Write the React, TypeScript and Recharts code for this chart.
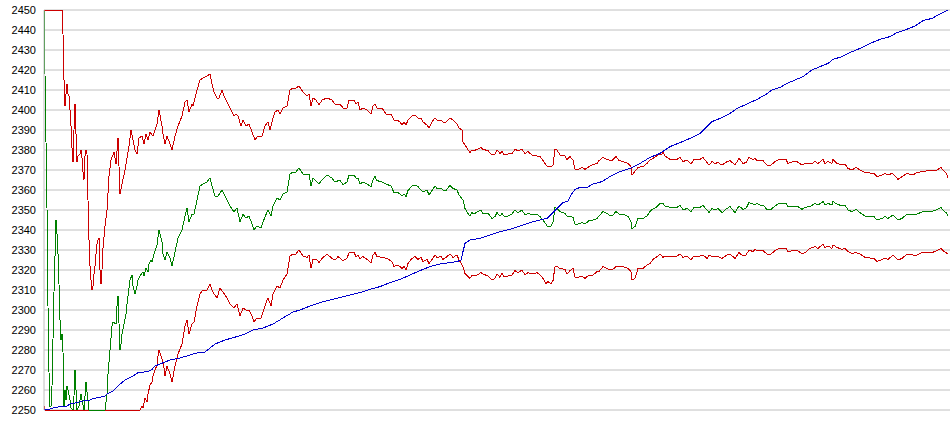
import { LineChart, Line, XAxis, YAxis, CartesianGrid } from 'recharts';

// [bar index, value] pairs
const upperBand: [number, number][] = [
    [0, 2450], [18, 2450], [19, 2438], [20, 2415], [21, 2402], [22, 2408], [23, 2413], [24, 2408], [25, 2407], [26, 2400],
    [27, 2392], [28, 2381], [29, 2374], [30, 2390], [31, 2403], [32, 2388], [33, 2374], [34, 2377], [36, 2378], [37, 2380],
    [38, 2376], [39, 2369], [40, 2365], [41, 2377], [42, 2380], [43, 2378], [44, 2355], [45, 2335], [46, 2322], [47, 2315],
    [48, 2310], [49, 2312], [50, 2318], [51, 2322], [52, 2328], [53, 2333], [54, 2335], [55, 2336], [56, 2320], [57, 2313],
    [58, 2320], [59, 2331], [61, 2342], [63, 2350], [65, 2367], [67, 2375], [70, 2379], [72, 2373], [74, 2386], [76, 2358],
    [78, 2363], [81, 2370], [85, 2382], [87, 2390], [91, 2380], [93, 2378], [95, 2386], [98, 2387], [100, 2383], [102, 2388],
    [104, 2385], [106, 2389], [109, 2387], [113, 2393], [115, 2400], [118, 2392], [119, 2388], [121, 2383], [123, 2387], [126, 2383],
    [128, 2380], [131, 2387], [134, 2392], [138, 2397], [141, 2404], [143, 2405], [145, 2399], [148, 2403], [149, 2402], [153, 2410],
    [156, 2415], [159, 2416], [163, 2417], [166, 2418], [168, 2413], [170, 2409], [173, 2406], [175, 2406], [178, 2410], [180, 2407],
    [183, 2404], [186, 2401], [190, 2397], [192, 2398], [194, 2397], [197, 2392], [199, 2395], [202, 2392], [205, 2393], [208, 2389],
    [211, 2385], [214, 2387], [218, 2387], [221, 2392], [224, 2394], [226, 2390], [229, 2396], [231, 2399], [234, 2400], [236, 2398],
    [239, 2401], [243, 2402], [246, 2410], [249, 2411], [252, 2411], [255, 2412], [259, 2409], [263, 2407], [265, 2408], [267, 2402],
    [269, 2406], [272, 2405], [275, 2402.5], [278, 2405], [283, 2406], [288, 2405], [291, 2403], [296, 2403], [299, 2401], [303, 2401],
    [305, 2405], [310, 2405], [312, 2403], [314, 2404], [316, 2400], [319, 2401], [323, 2400], [327, 2398], [329, 2402], [331, 2403],
    [333, 2401], [338, 2401], [342, 2398], [347, 2398], [350, 2395], [353, 2395], [356, 2394], [358, 2392.5], [360, 2394], [362, 2392.5],
    [364, 2395], [368, 2397], [371, 2397.5], [374, 2396], [377, 2396], [379, 2394], [383, 2392.5], [385, 2391], [388, 2394], [391, 2396],
    [393, 2395], [397, 2395], [399, 2394], [402, 2394], [406, 2396], [409, 2395], [413, 2393], [415, 2391], [418, 2390], [419, 2384],
    [422, 2381.7], [424, 2380], [426, 2378.7], [428, 2380], [430, 2379.7], [433, 2380.3], [437, 2381.3], [439, 2380.3], [444, 2379.7], [448, 2377.5],
    [451, 2378], [453, 2380], [456, 2378.3], [458, 2379.2], [460, 2377.5], [464, 2378], [468, 2378.3], [471, 2380.3], [474, 2379.7], [478, 2380.3],
    [481, 2378.3], [484, 2379.2], [488, 2377.5], [493, 2377], [496, 2376.7], [499, 2374.7], [501, 2373.3], [503, 2372], [507, 2371.7], [509, 2372.5],
    [511, 2380.3], [513, 2380], [516, 2377.5], [521, 2377], [523, 2375.3], [526, 2376.7], [529, 2375], [531, 2370.3], [534, 2370.3], [538, 2371.3],
    [541, 2370.3], [545, 2371.7], [548, 2372.5], [553, 2373.3], [555, 2374.7], [559, 2376.3], [563, 2375.3], [565, 2375], [568, 2374.7], [572, 2376.7],
    [575, 2374.7], [579, 2374.2], [584, 2373.3], [587, 2371.7], [588, 2367.5], [590, 2368.7], [594, 2371.3], [599, 2371.7], [603, 2373.3], [606, 2375],
    [609, 2375.8], [614, 2377.5], [618, 2378], [619, 2378.7], [621, 2377], [626, 2375.3], [633, 2375.3], [636, 2376.3], [639, 2374.2], [643, 2375],
    [647, 2373], [650, 2375.3], [656, 2375.3], [659, 2376.3], [663, 2373.7], [665, 2372.5], [668, 2374.2], [671, 2373.3], [674, 2373.7], [678, 2372.5],
    [683, 2374.2], [686, 2374.7], [691, 2372.5], [695, 2375.8], [699, 2373.3], [702, 2373.7], [705, 2376.3], [709, 2375.3], [711, 2375.8], [713, 2374.7],
    [716, 2374.7], [719, 2374.7], [723, 2372.5], [727, 2372.5], [731, 2374.2], [735, 2375.3], [742, 2375.3], [744, 2373.3], [749, 2374.2], [753, 2374.2],
    [758, 2372.5], [761, 2373.3], [768, 2373.3], [771, 2374.2], [774, 2373.3], [779, 2375.3], [781, 2373.3], [784, 2374.2], [788, 2373.3], [789, 2375.3],
    [793, 2373.3], [798, 2372.5], [801, 2373], [804, 2370.8], [808, 2370], [812, 2371.3], [816, 2370], [821, 2368.7], [830, 2368.3], [833, 2366.7],
    [838, 2367.5], [841, 2368.3], [844, 2367.5], [848, 2368.3], [851, 2367], [854, 2365.3], [858, 2366.7], [863, 2368.3], [869, 2367.5], [873, 2368.7],
    [878, 2369.2], [888, 2370], [893, 2370], [897, 2371.3], [899, 2370], [902, 2368.7], [904, 2366.3],
];

const middleBand: [number, number][] = [
    [0, 2450], [1, 2418], [3, 2351], [4, 2302], [5, 2269], [6, 2252], [7, 2252], [8, 2262], [10, 2309], [12, 2345],
    [13, 2338], [14, 2328], [15, 2313], [16, 2295], [17, 2285], [18, 2288], [19, 2279], [20, 2252], [21, 2260], [22, 2255],
    [23, 2262], [24, 2260], [26, 2255], [27, 2251], [29, 2250], [30, 2257], [31, 2270], [32, 2260], [33, 2250], [35, 2252],
    [36, 2255], [37, 2258], [38, 2255], [40, 2250], [41, 2257], [42, 2264], [43, 2259], [45, 2250], [61, 2250], [63, 2258],
    [64, 2268], [66, 2280], [68, 2292], [69, 2294], [72, 2293], [73, 2302], [74, 2307], [76, 2280], [77, 2283], [78, 2288],
    [80, 2293], [82, 2298], [83, 2303], [86, 2315], [88, 2317.5], [89, 2312], [91, 2308], [93, 2312], [94, 2315], [96, 2317],
    [99, 2319], [100, 2317], [102, 2321], [104, 2319], [105, 2323], [107, 2325], [108, 2324], [110, 2328], [113, 2332.5], [115, 2340],
    [118, 2334], [119, 2328], [121, 2325], [123, 2329], [126, 2326], [128, 2322], [131, 2329], [134, 2336], [138, 2340], [141, 2347],
    [143, 2351], [145, 2344], [148, 2348], [150, 2348], [153, 2355], [156, 2362], [159, 2363], [163, 2364], [166, 2366], [168, 2362],
    [171, 2357], [174, 2357], [178, 2360], [180, 2358], [183, 2355], [186, 2352], [190, 2349], [193, 2351], [196, 2344], [199, 2348],
    [202, 2346], [205, 2347], [208, 2343], [210, 2340], [213, 2342], [217, 2341], [219, 2344], [223, 2349], [224, 2350], [227, 2347],
    [229, 2352], [233, 2356], [236, 2355], [239, 2358], [243, 2359], [246, 2368], [249, 2369], [252, 2369], [255, 2371], [259, 2368],
    [263, 2367.5], [265, 2368], [267, 2362], [269, 2366], [273, 2364], [275, 2363], [278, 2365], [283, 2367.5], [288, 2366], [291, 2364],
    [296, 2365], [299, 2362.5], [303, 2364], [305, 2367.5], [310, 2367.5], [312, 2366], [314, 2366], [316, 2363], [319, 2364], [323, 2363],
    [327, 2361.7], [329, 2365], [331, 2366.7], [333, 2364.7], [338, 2364], [342, 2363], [347, 2362], [350, 2358.7], [353, 2359], [356, 2358],
    [358, 2357], [360, 2358], [362, 2356.7], [364, 2359.7], [368, 2362], [371, 2362.5], [374, 2361.7], [377, 2360], [379, 2359], [383, 2360],
    [385, 2357.5], [388, 2359.7], [391, 2362], [393, 2360.8], [397, 2360.8], [399, 2360], [402, 2359.7], [406, 2362.3], [409, 2360.8], [413, 2360],
    [415, 2357.5], [419, 2355], [421, 2350.8], [424, 2348.3], [426, 2347], [428, 2348.7], [430, 2348], [433, 2349], [437, 2350], [439, 2348.3],
    [444, 2348.3], [448, 2345.8], [451, 2346.7], [453, 2348.7], [456, 2347], [458, 2348.3], [460, 2347], [464, 2347], [468, 2348], [471, 2350],
    [474, 2348.7], [478, 2350], [481, 2347.5], [484, 2348.3], [489, 2347.5], [493, 2348], [496, 2346.7], [499, 2345], [502, 2343], [503, 2342],
    [507, 2342], [509, 2343.7], [511, 2351.3], [513, 2350.8], [516, 2349.2], [521, 2348.3], [523, 2347], [526, 2347], [529, 2346.3], [531, 2343],
    [534, 2343], [538, 2343.7], [541, 2343], [545, 2344.7], [548, 2344.7], [553, 2345.8], [555, 2347], [559, 2349.2], [563, 2348.3], [565, 2347.5],
    [568, 2347], [572, 2349.2], [575, 2348], [579, 2348], [584, 2346.7], [587, 2344.2], [588, 2340.8], [591, 2341.7], [594, 2345.8], [599, 2345.8],
    [603, 2347], [606, 2349.2], [608, 2350.3], [612, 2351.3], [616, 2353.3], [619, 2353.3], [621, 2352], [626, 2351.3], [633, 2351.3], [636, 2352.5],
    [639, 2350], [643, 2350.8], [647, 2349.2], [650, 2351.3], [656, 2351.3], [659, 2352.3], [663, 2350], [665, 2348.7], [668, 2350.8], [671, 2350],
    [674, 2350.8], [678, 2348.7], [683, 2350.8], [686, 2351.7], [691, 2348.7], [695, 2352], [699, 2350.3], [702, 2350.8], [705, 2353.7], [709, 2353],
    [711, 2352.5], [713, 2353.3], [716, 2352.5], [719, 2352.5], [723, 2350.3], [727, 2350.3], [731, 2352], [735, 2353.3], [742, 2353.3], [744, 2351.7],
    [753, 2352], [758, 2350.3], [761, 2351.3], [766, 2351.7], [771, 2353.3], [774, 2352.5], [779, 2354.2], [781, 2352.5], [784, 2353.3], [788, 2352.5],
    [789, 2354.2], [793, 2353], [798, 2352], [801, 2352.5], [804, 2350], [808, 2349.2], [812, 2350.3], [816, 2348.7], [821, 2347], [830, 2346.7],
    [833, 2345], [838, 2345.8], [841, 2346.7], [844, 2345.8], [849, 2347.5], [854, 2345], [858, 2345.8], [863, 2348], [869, 2347.5], [873, 2348],
    [878, 2349], [888, 2349.2], [893, 2350.3], [897, 2351.3], [899, 2350], [902, 2348.7], [904, 2347],
];

const lowerBand: [number, number][] = [
    [0, 2252], [1, 2250], [96, 2250], [98, 2251.7], [99, 2251], [101, 2256], [103, 2254], [104, 2258], [106, 2262.5], [108, 2264],
    [109, 2267], [111, 2270], [113, 2272.5], [114, 2277], [115, 2280], [117, 2277], [119, 2274], [120, 2271], [121, 2267], [123, 2272],
    [126, 2268], [128, 2264], [131, 2272], [134, 2278], [138, 2283], [141, 2292], [143, 2295], [145, 2288], [148, 2293], [150, 2294],
    [153, 2302], [156, 2308], [159, 2310], [163, 2310], [166, 2313], [168, 2310], [170, 2308], [173, 2306], [176, 2311], [179, 2309],
    [183, 2306], [186, 2303], [190, 2301], [193, 2303], [196, 2297], [199, 2301], [202, 2300], [205, 2300], [208, 2297], [210, 2294],
    [213, 2296], [217, 2296], [219, 2299], [223, 2305], [224, 2306], [227, 2302], [229, 2308], [233, 2312], [236, 2311], [239, 2315],
    [243, 2318], [246, 2327], [249, 2328], [252, 2328], [255, 2330], [259, 2327], [263, 2326.3], [265, 2327.5], [267, 2320.8], [269, 2325.3],
    [273, 2325], [275, 2323.7], [278, 2325.8], [283, 2328], [288, 2325.8], [291, 2325], [294, 2326.7], [299, 2324.7], [303, 2325.8], [305, 2328.7],
    [310, 2328.7], [312, 2326.7], [314, 2327.5], [316, 2325.8], [319, 2326.7], [323, 2325.3], [327, 2323.7], [329, 2327.5], [331, 2328.7], [333, 2326.7],
    [339, 2326.3], [343, 2325.8], [348, 2324.2], [350, 2321.7], [353, 2322.5], [356, 2321.7], [358, 2320.8], [360, 2321.7], [362, 2320], [364, 2323.3],
    [368, 2325.8], [371, 2326.7], [374, 2325.3], [377, 2326.3], [379, 2324.2], [383, 2325.3], [385, 2323.3], [388, 2325.3], [391, 2327.5], [393, 2326.3],
    [397, 2326.7], [399, 2325.3], [402, 2326.3], [406, 2328], [409, 2326.3], [413, 2327.5], [415, 2325], [416, 2324.2], [419, 2321.7], [421, 2318.3],
    [424, 2316.7], [426, 2315.8], [428, 2317.5], [430, 2317], [433, 2317.5], [437, 2318.7], [439, 2318], [444, 2317], [448, 2315], [451, 2315.8],
    [453, 2318], [456, 2316.3], [458, 2318.3], [460, 2316.7], [464, 2317], [468, 2317.5], [471, 2319.7], [474, 2318.7], [478, 2320], [481, 2317.5],
    [484, 2318.7], [489, 2318], [493, 2318.7], [496, 2317.5], [499, 2315.8], [502, 2313.3], [504, 2314.2], [507, 2313], [509, 2314.7], [511, 2321.7],
    [513, 2321.7], [516, 2320.8], [521, 2320.3], [523, 2318], [526, 2319.7], [529, 2320.8], [531, 2316.3], [534, 2316.3], [538, 2317], [541, 2315.8],
    [545, 2317.5], [548, 2317], [553, 2319.2], [555, 2319.2], [559, 2321.7], [563, 2320.8], [565, 2320.3], [568, 2320], [572, 2321.7], [579, 2321.7],
    [584, 2320.8], [587, 2319.2], [588, 2315], [591, 2315.8], [594, 2320.8], [599, 2320.8], [603, 2322.5], [606, 2323.3], [609, 2325.3], [613, 2326.7],
    [616, 2328], [619, 2326.3], [621, 2327], [626, 2327], [633, 2327], [636, 2328], [639, 2326.3], [643, 2327], [647, 2325], [650, 2327],
    [656, 2327], [659, 2327.5], [663, 2325.8], [665, 2327.5], [668, 2326.7], [671, 2327], [674, 2326.7], [678, 2325.8], [683, 2327.5], [686, 2328],
    [691, 2325.8], [695, 2328.7], [699, 2327], [702, 2327.5], [705, 2330], [709, 2329.2], [711, 2330.3], [713, 2329.7], [716, 2329.7], [719, 2329.7],
    [723, 2328], [727, 2328], [731, 2329.7], [735, 2330.8], [742, 2330.8], [744, 2329.2], [753, 2330], [758, 2328], [761, 2328.7], [766, 2330.8],
    [771, 2331.7], [774, 2330.8], [779, 2333], [781, 2331.3], [784, 2332], [788, 2330.8], [789, 2332.5], [793, 2331.3], [798, 2330.3], [801, 2330.8],
    [804, 2329.2], [808, 2328.3], [812, 2328.7], [816, 2328], [821, 2326.3], [830, 2325.8], [833, 2324.2], [838, 2325.3], [841, 2325.8], [844, 2325.3],
    [849, 2327.5], [854, 2325], [858, 2325.8], [863, 2328], [869, 2327.5], [873, 2327.5], [878, 2328.7], [888, 2328.7], [893, 2329.7], [897, 2330.8],
    [899, 2329.7], [904, 2328],
];

const trendLine: [number, number][] = [
    [0, 2250], [6, 2250.5], [9, 2251], [16, 2251.7], [23, 2252], [26, 2253], [33, 2253.7], [41, 2254.7], [46, 2255], [49, 2255.8],
    [56, 2256.3], [61, 2257], [63, 2258], [69, 2259.5], [74, 2262], [81, 2265], [88, 2266.7], [94, 2268.7], [104, 2269.2], [108, 2270.3],
    [111, 2272], [116, 2273], [126, 2275], [136, 2276], [146, 2277.5], [156, 2279], [161, 2279], [166, 2281], [171, 2283], [181, 2285],
    [193, 2286.7], [201, 2288], [209, 2290], [219, 2291], [229, 2293], [239, 2296], [249, 2299], [256, 2300], [266, 2302], [276, 2303.7],
    [286, 2305], [296, 2306.3], [306, 2307.5], [316, 2308.7], [326, 2310.3], [336, 2311.7], [346, 2313.7], [356, 2315.3], [366, 2317.5], [376, 2319.7],
    [386, 2321.7], [396, 2323], [406, 2323.7], [413, 2324.2], [417, 2325], [419, 2329.2], [421, 2333.3], [426, 2335], [436, 2335.8], [446, 2337.5],
    [456, 2339.2], [466, 2340.3], [476, 2342], [486, 2343.7], [496, 2345], [503, 2345.8], [508, 2348.3], [513, 2350.8], [519, 2353.7], [524, 2354.5],
    [528, 2358.3], [531, 2360.3], [536, 2361.3], [543, 2361.3], [549, 2363], [558, 2364.2], [566, 2366.7], [576, 2369.2], [586, 2370.8], [596, 2373.3],
    [606, 2376.3], [616, 2378.3], [626, 2381.7], [636, 2383.7], [646, 2385.8], [656, 2388.3], [663, 2391.7], [668, 2394.2], [676, 2395.8], [686, 2398.3],
    [693, 2400.8], [703, 2403], [713, 2405.3], [721, 2407.5], [728, 2410], [736, 2411.3], [743, 2413.3], [751, 2415], [759, 2416.7], [768, 2420],
    [776, 2421.7], [784, 2423.3], [789, 2425.3], [798, 2426.7], [806, 2428.7], [816, 2430.8], [826, 2433.3], [836, 2435.3], [846, 2436.7], [853, 2438.7],
    [861, 2440], [871, 2442], [879, 2444.7], [888, 2445.8], [896, 2448], [904, 2450],
];

const yTicks = [2250, 2260, 2270, 2280, 2290, 2300, 2310, 2320, 2330, 2340, 2350, 2360, 2370, 2380, 2390, 2400, 2410, 2420, 2430, 2440, 2450];

const toRows = (pts: [number, number][]) => pts.map(([t, v]) => ({ t, v }));

export default function App() {
    return (
        <div style={{ position: 'absolute', left: 0, top: 0, width: 950, height: 435, background: '#fff' }}>
            <LineChart width={950} height={435} margin={{ top: 10, right: 0, bottom: 25, left: 0 }}>
                <CartesianGrid vertical={false} stroke="#c0c0c0" />
                <XAxis type="number" dataKey="t" domain={[0, 906]} allowDataOverflow hide />
                <YAxis
                    type="number"
                    domain={[2250, 2450]}
                    ticks={yTicks}
                    interval={0}
                    width={44}
                    axisLine={{ stroke: '#c0c0c0' }}
                    tickLine={false}
                    tickSize={6}
                    tickMargin={2}
                    tick={{ fontSize: 11, fontFamily: '"Liberation Sans", Arial, sans-serif', fill: '#000' }}
                />
                <Line data={toRows(upperBand)} dataKey="v" type="linear" stroke="#cc0000" strokeWidth={1} dot={false} isAnimationActive={false} shapeRendering="crispEdges" />
                <Line data={toRows(lowerBand)} dataKey="v" type="linear" stroke="#cc0000" strokeWidth={1} dot={false} isAnimationActive={false} shapeRendering="crispEdges" />
                <Line data={toRows(middleBand)} dataKey="v" type="linear" stroke="#008000" strokeWidth={1} dot={false} isAnimationActive={false} shapeRendering="crispEdges" />
                <Line data={toRows(trendLine)} dataKey="v" type="linear" stroke="#0000cc" strokeWidth={1} dot={false} isAnimationActive={false} shapeRendering="crispEdges" />
            </LineChart>
        </div>
    );
}
